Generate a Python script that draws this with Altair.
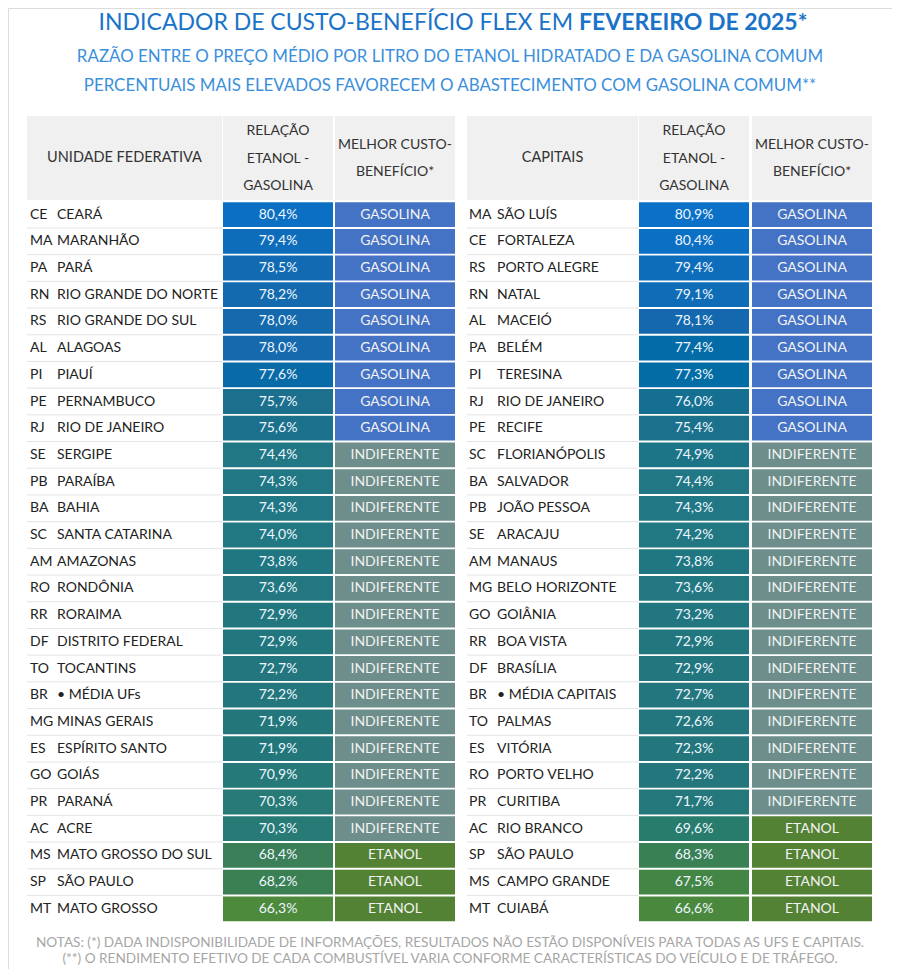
import altair as alt
import pandas as pd

# ---------------- data ----------------
title_regular = "INDICADOR DE CUSTO-BENEFÍCIO FLEX EM"
title_bold = "FEVEREIRO DE 2025*"
subtitle_1 = "RAZÃO ENTRE O PREÇO MÉDIO POR LITRO DO ETANOL HIDRATADO E DA GASOLINA COMUM"
subtitle_2 = "PERCENTUAIS MAIS ELEVADOS FAVORECEM O ABASTECIMENTO COM GASOLINA COMUM**"
note_1 = "NOTAS:  (*) DADA INDISPONIBILIDADE DE INFORMAÇÕES, RESULTADOS NÃO ESTÃO DISPONÍVEIS PARA TODAS AS UFS E CAPITAIS."
note_2 = "(**) O RENDIMENTO EFETIVO DE CADA COMBUSTÍVEL VARIA CONFORME CARACTERÍSTICAS DO VEÍCULO E DE TRÁFEGO."

header_uf = "UNIDADE FEDERATIVA"
header_cap = "CAPITAIS"
header_rel = ["RELAÇÃO", "ETANOL -", "GASOLINA"]
header_best = ["MELHOR CUSTO-", "BENEFÍCIO*"]

codes_uf = ["CE", "MA", "PA", "RN", "RS", "AL", "PI", "PE", "RJ", "SE", "PB", "BA", "SC", "AM",
            "RO", "RR", "DF", "TO", "BR", "MG", "ES", "GO", "PR", "AC", "MS", "SP", "MT"]
names_uf = ["CEARÁ", "MARANHÃO", "PARÁ", "RIO GRANDE DO NORTE", "RIO GRANDE DO SUL", "ALAGOAS",
            "PIAUÍ", "PERNAMBUCO", "RIO DE JANEIRO", "SERGIPE", "PARAÍBA", "BAHIA",
            "SANTA CATARINA", "AMAZONAS", "RONDÔNIA", "RORAIMA", "DISTRITO FEDERAL", "TOCANTINS",
            "• MÉDIA UFs", "MINAS GERAIS", "ESPÍRITO SANTO", "GOIÁS", "PARANÁ", "ACRE",
            "MATO GROSSO DO SUL", "SÃO PAULO", "MATO GROSSO"]
vals_uf = [80.4, 79.4, 78.5, 78.2, 78.0, 78.0, 77.6, 75.7, 75.6, 74.4, 74.3, 74.3, 74.0, 73.8,
           73.6, 72.9, 72.9, 72.7, 72.2, 71.9, 71.9, 70.9, 70.3, 70.3, 68.4, 68.2, 66.3]
best_uf = ["GASOLINA"] * 9 + ["INDIFERENTE"] * 15 + ["ETANOL"] * 3

codes_cap = ["MA", "CE", "RS", "RN", "AL", "PA", "PI", "RJ", "PE", "SC", "BA", "PB", "SE", "AM",
             "MG", "GO", "RR", "DF", "BR", "TO", "ES", "RO", "PR", "AC", "SP", "MS", "MT"]
names_cap = ["SÃO LUÍS", "FORTALEZA", "PORTO ALEGRE", "NATAL", "MACEIÓ", "BELÉM", "TERESINA",
             "RIO DE JANEIRO", "RECIFE", "FLORIANÓPOLIS", "SALVADOR", "JOÃO PESSOA", "ARACAJU",
             "MANAUS", "BELO HORIZONTE", "GOIÂNIA", "BOA VISTA", "BRASÍLIA", "• MÉDIA CAPITAIS",
             "PALMAS", "VITÓRIA", "PORTO VELHO", "CURITIBA", "RIO BRANCO", "SÃO PAULO",
             "CAMPO GRANDE", "CUIABÁ"]
vals_cap = [80.9, 80.4, 79.4, 79.1, 78.1, 77.4, 77.3, 76.0, 75.4, 74.9, 74.4, 74.3, 74.2, 73.8,
            73.6, 73.2, 72.9, 72.9, 72.7, 72.6, 72.3, 72.2, 71.7, 69.6, 68.3, 67.5, 66.6]
best_cap = ["GASOLINA"] * 9 + ["INDIFERENTE"] * 14 + ["ETANOL"] * 4

best_categories = ["GASOLINA", "INDIFERENTE", "ETANOL"]

# ---------------- styling ----------------
FONT = "Lato"
TITLE_BLUE = "#1a73c8"
SUB_BLUE = "#3b8fdb"
HEADER_BG = "#f0f0f0"

val_domain = [66.3, 67.5, 68.4, 70.3, 72.5, 74.4, 75.7, 78.0, 80.9]
val_range = ["#4d8a3b", "#438544", "#3a7f57", "#277a76", "#23767d", "#217783", "#1c6f8d",
             "#1569ad", "#0a70c8"]
best_range = ["#4472c4", "#6d8e8b", "#548235"]

ROW_SCALE = alt.Scale(domain=[0, 26], range=[206.6, 900.8])


def make_df(codes, names, vals, best):
    return pd.DataFrame({
        "row": list(range(len(codes))),
        "code": codes,
        "name": names,
        "val": vals,
        "label": [f"{v:.1f}".replace(".", ",") + "%" for v in vals],
        "best": best,
    })


df_uf = make_df(codes_uf, names_uf, vals_uf, best_uf)
df_cap = make_df(codes_cap, names_cap, vals_cap, best_cap)
one = pd.DataFrame({"k": [0]})

Y = alt.Y("row:Q", scale=ROW_SCALE, axis=None)


def const_text(txt, x, y, size, color, align="center", weight="normal", lh=None, font=FONT):
    kw = dict(align=align, baseline="middle", fontSize=size, font=font,
              fontWeight=weight, color=color)
    if lh is not None:
        kw["lineHeight"] = lh
    return alt.Chart(one).mark_text(**kw).encode(
        x=alt.value(x), y=alt.value(y), text=alt.value(txt))


def const_rect(x1, x2, y1, y2, color):
    return alt.Chart(one).mark_rect(color=color).encode(
        x=alt.value(x1), x2=alt.value(x2), y=alt.value(y1), y2=alt.value(y2))


def table(df, lab_x1, lab_x2, val_x1, val_x2, best_x1, best_x2, code_x, name_x, head_label):
    base = alt.Chart(df)
    rect_base = base.transform_calculate(
        top="datum.row - 0.465", bot="datum.row + 0.465")
    sep = base.transform_filter("datum.row < 26").transform_calculate(
        s="datum.row + 0.5").mark_rule(color="#e4e4e4", strokeWidth=1).encode(
        x=alt.value(lab_x1), x2=alt.value(lab_x2),
        y=alt.Y("s:Q", scale=ROW_SCALE, axis=None))
    val_rect = rect_base.mark_rect().encode(
        x=alt.value(val_x1), x2=alt.value(val_x2),
        y=alt.Y("top:Q", scale=ROW_SCALE, axis=None),
        y2="bot:Q",
        color=alt.Color("val:Q", scale=alt.Scale(domain=val_domain, range=val_range), legend=None))
    best_rect = rect_base.mark_rect().encode(
        x=alt.value(best_x1), x2=alt.value(best_x2),
        y=alt.Y("top:Q", scale=ROW_SCALE, axis=None),
        y2="bot:Q",
        fill=alt.Fill("best:N", scale=alt.Scale(domain=best_categories, range=best_range),
                      legend=None))
    val_txt = base.mark_text(font=FONT, fontSize=14, color="#eef6ff", baseline="middle").encode(
        x=alt.value((val_x1 + val_x2) / 2), y=Y, text="label:N")
    best_txt = base.mark_text(font=FONT, fontSize=14, color="#f2f2f2", baseline="middle").encode(
        x=alt.value((best_x1 + best_x2) / 2), y=Y, text="best:N")
    code_txt = base.mark_text(font=FONT, fontSize=14, color="#222222", align="left",
                              baseline="middle").encode(x=alt.value(code_x), y=Y, text="code:N")
    name_txt = base.mark_text(font=FONT, fontSize=14, color="#222222", align="left",
                              baseline="middle").encode(x=alt.value(name_x), y=Y, text="name:N")
    headers = [
        const_rect(lab_x1, lab_x2, 108, 192, HEADER_BG),
        const_rect(val_x1, val_x2, 108, 192, HEADER_BG),
        const_rect(best_x1, best_x2, 108, 192, HEADER_BG),
        const_text(head_label, (lab_x1 + lab_x2) / 2, 150, 14.5, "#333333"),
        const_text(header_rel, (val_x1 + val_x2) / 2, 123, 14, "#333333", lh=27.5),
        const_text(header_best, (best_x1 + best_x2) / 2, 137, 14, "#333333", lh=27),
    ]
    return headers + [sep, val_rect, best_rect, val_txt, best_txt, code_txt, name_txt]


layers = []
layers += table(df_uf, 19, 214, 215, 325, 327, 447, 22, 49, header_uf)
layers += table(df_cap, 459, 630, 631, 741, 744, 864, 461, 489, header_cap)
layers += [
    const_text(title_regular, 565, 15, 23, TITLE_BLUE, align="right"),
    const_text(title_bold, 571, 15, 23, TITLE_BLUE, align="left", weight="bold"),
    const_text(subtitle_1, 442, 49, 16.9, SUB_BLUE),
    const_text(subtitle_2, 442, 78, 16.9, SUB_BLUE),
    const_text(note_1, 442, 935, 13.6, "#a6a6a6"),
    const_text(note_2, 442, 951, 13.6, "#a6a6a6"),
]

chart = alt.layer(*layers).resolve_scale(color="independent", fill="independent").properties(
    width=884, height=961, padding=0, autosize="none"
).configure_view(stroke=None).configure(background="white")

chart.save("out.html", embed_options={"renderer": "svg", "actions": False})
